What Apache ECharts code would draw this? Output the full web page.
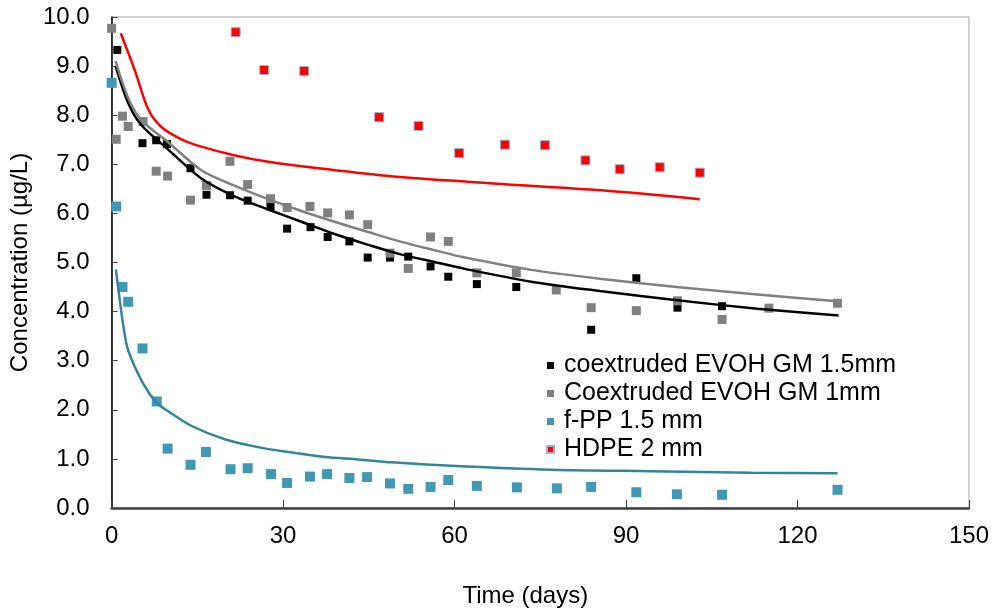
<!DOCTYPE html>
<html>
<head>
<meta charset="utf-8">
<script src="https://cdn.jsdelivr.net/npm/echarts/dist/echarts.min.js"></script>
<style>
  html, body { margin: 0; padding: 0; background: #fff; }
  #chart { width: 992px; height: 613px; }
</style>
</head>
<body>
<div id="chart"></div>
<script>
// measured points (days, µg/L)
const evoh15Days = [1, 5.4, 7.8, 9.7, 13.8, 16.6, 20.7, 23.8, 27.8, 30.7, 34.8, 37.8, 41.6, 44.8, 48.7, 51.9, 55.8, 58.9, 63.9, 70.8, 83.9, 91.8, 99, 106.8];
const evoh15Conc = [9.33, 7.43, 7.49, 7.41, 6.92, 6.38, 6.37, 6.26, 6.14, 5.69, 5.72, 5.52, 5.43, 5.10, 5.10, 5.12, 4.92, 4.71, 4.56, 4.50, 3.63, 4.68, 4.08, 4.11];

const evoh1Days = [0, 0.8, 1.9, 2.9, 5.5, 7.8, 9.8, 13.8, 16.6, 20.7, 23.8, 27.8, 30.7, 34.7, 37.8, 41.6, 44.8, 48.7, 51.9, 55.8, 58.9, 63.9, 70.8, 77.8, 83.9, 91.8, 99, 106.8, 115, 127];
const evoh1Conc = [9.77, 7.51, 7.98, 7.77, 7.87, 6.86, 6.76, 6.27, 6.57, 7.06, 6.59, 6.30, 6.12, 6.14, 6.01, 5.97, 5.77, 5.19, 4.88, 5.52, 5.43, 4.79, 4.79, 4.44, 4.08, 4.02, 4.22, 3.84, 4.07, 4.17];

const fppDays = [0, 0.8, 1.9, 2.9, 5.4, 7.9, 9.8, 13.8, 16.5, 20.8, 23.8, 27.9, 30.7, 34.7, 37.7, 41.6, 44.7, 48.7, 51.9, 55.8, 58.9, 63.9, 70.9, 77.9, 83.9, 91.8, 98.9, 106.8, 127];
const fppConc = [8.66, 6.14, 4.50, 4.20, 3.25, 2.17, 1.21, 0.88, 1.14, 0.79, 0.81, 0.69, 0.51, 0.64, 0.69, 0.61, 0.63, 0.50, 0.39, 0.43, 0.57, 0.45, 0.42, 0.40, 0.43, 0.32, 0.28, 0.27, 0.37];

const hdpeDays = [21.7, 26.7, 33.7, 46.8, 53.7, 60.8, 68.8, 75.8, 82.9, 88.9, 95.9, 102.9];
const hdpeConc = [9.69, 8.92, 8.90, 7.96, 7.78, 7.23, 7.40, 7.39, 7.08, 6.90, 6.94, 6.83];

// model curves
const evoh15FitDays = [0.7, 2.9, 5.2, 9.9, 15.7, 21.6, 27.4, 33.2, 39, 44.9, 50.4, 56.5, 61.8, 73.4, 85.4, 99.7, 113, 127.2];
const evoh15FitConc = [9.0, 8.25, 7.8, 7.3, 6.71, 6.34, 6.08, 5.83, 5.58, 5.36, 5.17, 5.01, 4.87, 4.61, 4.42, 4.22, 4.06, 3.92];

const evoh1FitDays = [0.7, 2.9, 5.2, 9.9, 15.7, 21.6, 27.4, 33.2, 39, 44.9, 50.4, 56.5, 61.8, 73.4, 85.4, 99.7, 113, 127];
const evoh1FitConc = [9.1, 8.35, 7.9, 7.45, 6.88, 6.56, 6.29, 6.05, 5.83, 5.62, 5.43, 5.25, 5.10, 4.85, 4.67, 4.49, 4.35, 4.21];

const fppFitDays = [0.75, 2.0, 2.9, 5.5, 7.9, 9.9, 14, 19.8, 25.6, 31.5, 37.3, 43.1, 49, 59.4, 76.9, 94.4, 111.9, 127];
const fppFitConc = [4.86, 3.75, 3.21, 2.54, 2.14, 1.97, 1.67, 1.40, 1.24, 1.13, 1.04, 0.99, 0.93, 0.86, 0.78, 0.75, 0.72, 0.71];

const hdpeFitDays = [1.6, 4.1, 6.4, 8.7, 12.2, 15.7, 21.6, 27.4, 33.2, 38.5, 50.4, 68.2, 85.7, 102.9];
const hdpeFitConc = [9.67, 8.9, 8.12, 7.76, 7.51, 7.36, 7.18, 7.05, 6.96, 6.89, 6.74, 6.60, 6.47, 6.29];

const seriesNames = ['coextruded EVOH GM 1.5mm', 'Coextruded EVOH GM 1mm', 'f-PP 1.5 mm', 'HDPE 2 mm'];

const pairs = (xs, ys) => xs.map((x, i) => [x, ys[i]]);
const FONT = 'Liberation Sans, Arial, sans-serif';

function dots(name, xs, ys, color, size, extra) {
  return {
    name: name,
    type: 'scatter',
    symbol: 'rect',
    symbolSize: size,
    itemStyle: Object.assign({ color: color, opacity: 1 }, extra || {}),
    data: pairs(xs, ys),
  };
}

function curve(xs, ys, color) {
  return {
    name: 'fit ' + color,
    type: 'line',
    showSymbol: false,
    symbol: 'none',
    smooth: 0.3,
    silent: true,
    lineStyle: { color: color, width: 2.5 },
    data: pairs(xs, ys),
  };
}

const option = {
  animation: false,
  backgroundColor: '#fff',
  textStyle: { fontFamily: FONT },
  grid: {
    left: 110, right: 23, top: 17, bottom: 100,
    show: true, borderColor: '#a6a6a6', borderWidth: 1,
  },
  legend: {
    data: seriesNames,
    orient: 'vertical',
    left: 541,
    top: 348,
    itemWidth: 7,
    itemHeight: 7,
    itemGap: 3,
    textStyle: { fontSize: 25, lineHeight: 23, color: '#000', fontFamily: FONT, padding: [0, 0, 0, 5] },
  },
  xAxis: {
    type: 'value',
    min: 0, max: 150, interval: 30,
    name: 'Time (days)',
    nameLocation: 'middle',
    nameGap: 76,
    nameTextStyle: { fontSize: 24, color: '#000', fontFamily: FONT, padding: [0, 30, 0, 0] },
    axisLine: { lineStyle: { color: '#404040', width: 2.5 } },
    axisTick: { inside: true, length: 8, lineStyle: { color: '#404040', width: 1 } },
    axisLabel: { fontSize: 24, color: '#000', margin: 16, fontFamily: FONT },
    splitLine: { show: false },
  },
  yAxis: {
    type: 'value',
    min: 0, max: 10, interval: 1,
    name: 'Concentration (µg/L)',
    nameLocation: 'middle',
    nameGap: 76,
    nameTextStyle: { fontSize: 24, color: '#000', fontFamily: FONT },
    axisLine: { show: true, lineStyle: { color: '#000', width: 1.5 } },
    axisTick: { show: true, inside: true, length: 6, lineStyle: { color: '#404040', width: 1 } },
    axisLabel: { fontSize: 24, color: '#000', margin: 22, fontFamily: FONT, formatter: v => v.toFixed(1) },
    splitLine: { show: false },
  },
  series: [
    dots(seriesNames[0], evoh15Days, evoh15Conc, '#000000', 8),
    dots(seriesNames[1], evoh1Days, evoh1Conc, '#808080', 9),
    dots(seriesNames[2], fppDays, fppConc, '#4298b4', 10),
    dots(seriesNames[3], hdpeDays, hdpeConc, '#ff0000', 9, { borderColor: '#95b3d7', borderWidth: 1 }),
    curve(evoh15FitDays, evoh15FitConc, '#000000'),
    curve(evoh1FitDays, evoh1FitConc, '#808080'),
    curve(fppFitDays, fppFitConc, '#31859c'),
    curve(hdpeFitDays, hdpeFitConc, '#ff0000'),
  ],
};

const myChart = echarts.init(document.getElementById('chart'), null, { renderer: 'canvas' });
myChart.setOption(option);
window.addEventListener('resize', function () {
  myChart.resize();
});
</script>
</body>
</html>
